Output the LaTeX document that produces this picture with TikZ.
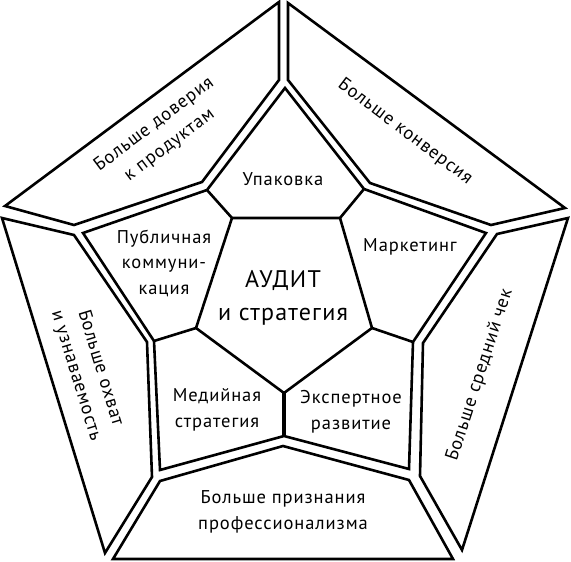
\documentclass[tikz,border=0pt]{standalone}
\usepackage{fontspec}
\setmainfont{PT Sans}[LetterSpace=5]
\begin{document}
\begin{tikzpicture}[x=1pt,y=-1pt,line width=2.6pt,
  lbl/.style={align=center,inner sep=0pt,font=\fontsize{18.5}{25.5}\selectfont},
  big/.style={align=center,inner sep=0pt,font=\fontsize{24}{33}\selectfont}]
\useasboundingbox (0,0) rectangle (571,562);
% outer ring
\draw (279,2) -- (5,206) -- (74,225) -- (202,182) -- (279,80) -- cycle;
\draw (288,3) -- (565,208) -- (491,225) -- (370,183) -- (288,80) -- cycle;
\draw (568,218) -- (497,234) -- (423,343) -- (420,476) -- (462,550) -- cycle;
\draw (113,559) -- (160,481) -- (283,446) -- (409,480) -- (453,559) -- cycle;
\draw (2,218) -- (74,235) -- (147,342) -- (152,477) -- (105,553) -- cycle;
% middle ring
\coordinate (tipT) at (285,88);
\coordinate (kUR) at (364,189);
\coordinate (tipR) at (486,233);
\coordinate (kRL) at (413,342);
\coordinate (tipBR) at (409,469);
\coordinate (kB) at (284,436);
\coordinate (tipBL) at (160,470);
\coordinate (kLL) at (154,341);
\coordinate (tipL) at (83,233);
\coordinate (kUL) at (207,190);
\coordinate (c1) at (232,218);
\coordinate (c2) at (340,218);
\coordinate (c3) at (372,328);
\coordinate (c4) at (284,393);
\coordinate (c5) at (196,328);
\draw (tipT) -- (kUR) -- (tipR) -- (kRL) -- (tipBR) -- (kB) -- (tipBL)
  -- (kLL) -- (tipL) -- (kUL) -- cycle;
\draw (c1) -- (c2) -- (c3) -- (c4) -- (c5) -- cycle;
\draw (kUL) -- (c1);
\draw (kUR) -- (c2);
\draw (kRL) -- (c3);
\draw (kLL) -- (c5);
\draw[line width=4pt] (kB) -- (c4);
% labels
\node[lbl,rotate=37] (trust) at (162,135) {Больше доверия\\к продуктам};
\node[lbl,rotate=-37] (conv) at (405,132) {Больше конверсия};
\node[lbl,rotate=72] (check) at (480,375) {Больше средний чек};
\node[lbl,rotate=-73] (reach) at (88,372) {Больше охват\\и узнаваемость};
\node[lbl] (recog) at (283,512) {Больше признания\\профессионализма};
\node[lbl] (pack) at (283,179) {Упаковка};
\node[lbl] (mark) at (410,247) {Маркетинг};
\node[lbl] (pub) at (164,263) {Публичная\\коммуни-\\кация};
\node[lbl] (media) at (217,410) {Медийная\\стратегия};
\node[lbl] (expert) at (351,412) {Экспертное\\развитие};
\node[big] (audit) at (283,298) {АУДИТ\\и стратегия};
\end{tikzpicture}
\end{document}
